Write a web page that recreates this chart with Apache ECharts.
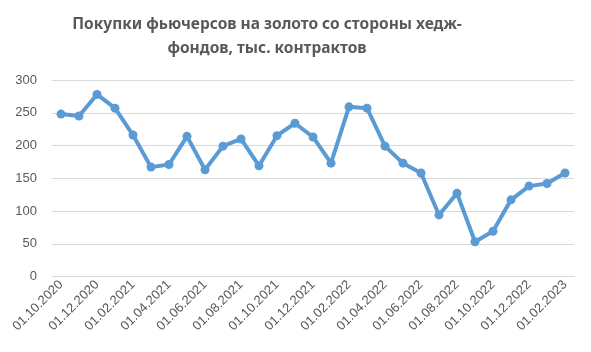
<!DOCTYPE html>
<html><head><meta charset="utf-8">
<script src="https://cdn.jsdelivr.net/npm/echarts@6/dist/echarts.min.js"></script>
<style>html,body{margin:0;padding:0;background:#fff}#c{width:591px;height:352px}</style>
</head><body><div id="c"></div>
<script>
const titleText = 'Покупки фьючерсов на золото со стороны хедж-\nфондов, тыс. контрактов';
const categories = ['01.10.2020','01.11.2020','01.12.2020','01.01.2021','01.02.2021','01.03.2021','01.04.2021','01.05.2021','01.06.2021','01.07.2021','01.08.2021','01.09.2021','01.10.2021','01.11.2021','01.12.2021','01.01.2022','01.02.2022','01.03.2022','01.04.2022','01.05.2022','01.06.2022','01.07.2022','01.08.2022','01.09.2022','01.10.2022','01.11.2022','01.12.2022','01.01.2023','01.02.2023'];
const values = [248,245,278,257,216,167,171,214,163,199,210,169,215,234,213,173,259,257,199,173,158,94,127,53,69,117,138,142,158];
const yTicks = {min:0, max:300, interval:50};

const chart = echarts.init(document.getElementById('c'));
chart.setOption({
  animation:false,
  title:{text:titleText,left:262,top:8,textAlign:'center',
    textStyle:{fontFamily:'Noto Sans',fontWeight:'bold',fontSize:15.5,color:'#595959',lineHeight:24,align:'center'}},
  grid:{left:52,right:17,top:80,bottom:75.5},
  xAxis:{type:'category',data:categories,boundaryGap:true,
    axisLine:{lineStyle:{color:'#D9D9D9'}},
    axisTick:{interval:1,length:5,lineStyle:{color:'#D9D9D9'}},
    axisLabel:{interval:1,rotate:45,color:'#595959',fontFamily:'Liberation Sans',fontSize:13,margin:6}},
  yAxis:{type:'value',min:yTicks.min,max:yTicks.max,interval:yTicks.interval,
    axisLine:{show:false},axisTick:{show:false},
    splitLine:{lineStyle:{color:'#D9D9D9'}},
    axisLabel:{color:'#595959',fontFamily:'Liberation Sans',fontSize:13,margin:15}},
  series:[{type:'line',data:values,symbol:'circle',symbolSize:9,
    lineStyle:{color:'#5B9BD5',width:4},itemStyle:{color:'#5B9BD5'}}]
});
</script></body></html>
